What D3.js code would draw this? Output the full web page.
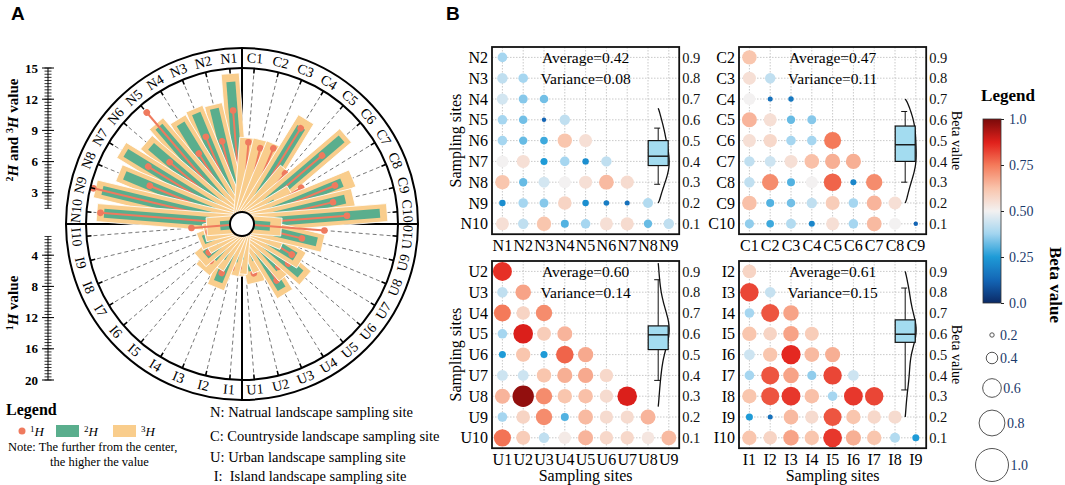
<!DOCTYPE html>
<html>
<head>
<meta charset="utf-8">
<script src="https://cdn.jsdelivr.net/npm/d3@7"></script>
<style>
  body { margin: 0; background: #fff; }
  text { font-family: "Liberation Serif", "Times New Roman", serif; }
</style>
</head>
<body>
<svg id="fig" width="1065" height="485"></svg>
<script>
// ---------- panel A data (radial) ----------
var sitesN = d3.range(1, 11).map(function(i) { return 'N' + i; });
var sitesC = d3.range(1, 11).map(function(i) { return 'C' + i; });
var sitesU = d3.range(1, 11).map(function(i) { return 'U' + i; });
var sitesI = d3.range(1, 11).map(function(i) { return 'I' + i; });

var h3N = [14.5, 11.8, 12.0, 11.8, 12.7, 12.1, 13.6, 12.8, 14.5, 14.0];
var h2N = [13.7, 11.4, 11.5, 11.3, 12.3, 11.5, 13.1, 12.2, 13.8, 13.3];
var h1N = [14.6, 10.9, 12.1, 10.6, 18.8, 12.2, 14.1, 12.8, 19.6, 18.2];

var h3C = [8.3, 8.3, 8.3, 11.8, 6.7, 13.1, 5.6, 11.5, 11.0, 14.0];
var h2C = [1.4, 1.4, 1.4, 10.9, 2.9, 12.6, 3.8, 10.4, 10.2, 13.3];
var h1C = [10.5, 10.0, 10.5, 14.4, 8.5, 13.5, 8.9, 12.9, 12.0, 13.5];

var h3U = [5.0, 5.8, 4.8, 7.9, 6.5, 8.0, 6.7, 4.3, 8.0, 3.8];
var h2U = [3.8, 4.6, 3.7, 7.3, 5.6, 7.4, 6.0, 3.1, 7.4, 2.7];
var h1U = [5.3, 6.5, 4.3, 8.5, 7.2, 7.8, 7.5, 4.7, 7.9, 10.6];

var h3I = [4.8, 5.0, 6.6, 4.8, 5.8, 5.3, 4.0, 4.4, 3.7, 3.4];
var h2I = [3.4, 3.7, 6.0, 3.8, 4.3, 4.6, 3.1, 4.0, 2.4, 2.1];
var h1I = [5.6, 5.8, 6.8, 4.4, 6.2, 5.6, 4.4, 4.6, 4.4, 6.5];

var ticks23 = [3, 6, 9, 12, 15];
var ticks1 = [4, 8, 12, 16, 20];

// ---------- panel B data (beta matrices, lower triangle) ----------
var betaN = [
  [0.38],
  [0.42, 0.38],
  [0.45, 0.35, 0.33],
  [0.38, 0.33, 0.12, 0.42],
  [0.38, 0.32, 0.28, 0.62, 0.55],
  [0.50, 0.55, 0.25, 0.38, 0.22, 0.42],
  [0.62, 0.32, 0.45, 0.50, 0.55, 0.64, 0.56],
  [0.22, 0.38, 0.35, 0.58, 0.22, 0.18, 0.15, 0.40],
  [0.55, 0.42, 0.62, 0.30, 0.38, 0.55, 0.56, 0.32, 0.42]
];
var betaC = [
  [0.62],
  [0.55, 0.42],
  [0.50, 0.15, 0.17],
  [0.65, 0.55, 0.32, 0.35],
  [0.55, 0.57, 0.38, 0.38, 0.75],
  [0.42, 0.44, 0.55, 0.63, 0.66, 0.66],
  [0.42, 0.72, 0.30, 0.50, 0.78, 0.20, 0.72],
  [0.63, 0.30, 0.33, 0.42, 0.60, 0.38, 0.65, 0.55],
  [0.36, 0.28, 0.40, 0.20, 0.55, 0.38, 0.64, 0.50, 0.12]
];
var betaU = [
  [0.85],
  [0.42, 0.68],
  [0.75, 0.58, 0.72],
  [0.38, 0.88, 0.60, 0.65],
  [0.25, 0.62, 0.25, 0.78, 0.67],
  [0.44, 0.44, 0.62, 0.66, 0.67, 0.57],
  [0.65, 0.97, 0.72, 0.62, 0.63, 0.56, 0.88],
  [0.38, 0.58, 0.72, 0.30, 0.64, 0.56, 0.56, 0.65],
  [0.76, 0.60, 0.42, 0.52, 0.65, 0.57, 0.57, 0.53, 0.64]
];
var betaI = [
  [0.58],
  [0.82, 0.43],
  [0.38, 0.80, 0.68],
  [0.62, 0.58, 0.68, 0.60],
  [0.44, 0.62, 0.86, 0.64, 0.66],
  [0.38, 0.80, 0.68, 0.36, 0.82, 0.44],
  [0.62, 0.80, 0.84, 0.63, 0.38, 0.84, 0.82],
  [0.25, 0.15, 0.64, 0.56, 0.80, 0.62, 0.57, 0.56],
  [0.62, 0.58, 0.68, 0.62, 0.84, 0.66, 0.62, 0.40, 0.25]
];
var averages = [0.42, 0.47, 0.60, 0.61];
var variances = [0.08, 0.11, 0.14, 0.15];
// whisker low, q1, median, q3, whisker high
var boxN = [0.29, 0.38, 0.425, 0.50, 0.56];
var boxC = [0.30, 0.40, 0.48, 0.57, 0.64];
var boxU = [0.376, 0.524, 0.595, 0.638, 0.86];
var boxI = [0.33, 0.559, 0.598, 0.667, 0.82];
// violin extent
var violinN = [0.20, 0.655];
var violinC = [0.20, 0.70];
var violinU = [0.25, 0.94];
var violinI = [0.20, 0.90];
var betaTicks = [0.1, 0.2, 0.3, 0.4, 0.5, 0.6, 0.7, 0.8, 0.9];
var colorTicks = [0, 0.25, 0.5, 0.75, 1];
var sizeTicks = [0.2, 0.4, 0.6, 0.8, 1.0];

var svg = d3.select('#fig');

var col3 = '#F9CD8C', col2 = '#5AAE8D', col1 = '#EF7A5E';

// ================= panel A =================
var cx = 242, cy = 224, rIn = 156, rOut = 176, rHole = 12;
var r23 = d3.scaleLinear().domain([0, 15]).range([0, rIn]);
var r1 = d3.scaleLinear().domain([0, 20]).range([0, rIn]);
var slot = d3.scaleBand().domain(d3.range(10)).range([0, 90]);

var quads = [
  {sites: sitesN, h1: h1N, h2: h2N, h3: h3N, start: 0, dir: -1},
  {sites: sitesC, h1: h1C, h2: h2C, h3: h3C, start: 0, dir: 1},
  {sites: sitesU, h1: h1U, h2: h2U, h3: h3U, start: 180, dir: -1},
  {sites: sitesI, h1: h1I, h2: h2I, h3: h3I, start: 180, dir: 1}
];
var sites = [];
quads.forEach(function(q) {
  q.sites.forEach(function(s, i) {
    sites.push({name: s, a: q.start + q.dir * (slot(i) + slot.bandwidth() / 2),
                v1: q.h1[i], v2: q.h2[i], v3: q.h3[i]});
  });
});
function px(a, r) { return cx + r * Math.sin(a * Math.PI / 180); }
function py(a, r) { return cy - r * Math.cos(a * Math.PI / 180); }

var gA = svg.append('g').attr('class', 'panelA');

// dashed spokes
gA.selectAll('line.spoke').data(sites).join('line')
  .attr('class', 'spoke')
  .attr('x1', function(d) { return px(d.a, rHole); })
  .attr('y1', function(d) { return py(d.a, rHole); })
  .attr('x2', function(d) { return px(d.a, rIn); })
  .attr('y2', function(d) { return py(d.a, rIn); })
  .attr('stroke', '#777').attr('stroke-width', 1).attr('stroke-dasharray', '4,3');

// cross
gA.append('line').attr('x1', cx).attr('x2', cx).attr('y1', cy - rOut).attr('y2', cy + rOut)
  .attr('stroke', '#000').attr('stroke-width', 2);
gA.append('line').attr('x1', cx - rOut).attr('x2', cx + rOut).attr('y1', cy).attr('y2', cy)
  .attr('stroke', '#000').attr('stroke-width', 2);

// bars + lollipops
var bars = gA.selectAll('g.site').data(sites).join('g')
  .attr('class', 'site')
  .attr('transform', function(d) { return 'translate(' + cx + ',' + cy + ') rotate(' + d.a + ')'; });
bars.append('rect')
  .attr('x', -9).attr('width', 18)
  .attr('y', function(d) { return -r23(d.v3); })
  .attr('height', function(d) { return r23(d.v3); })
  .attr('fill', col3).attr('stroke', '#fff').attr('stroke-width', 0.8);
bars.append('rect')
  .attr('x', -4.5).attr('width', 9)
  .attr('y', function(d) { return -r23(d.v2); })
  .attr('height', function(d) { return r23(d.v2); })
  .attr('fill', col2);
bars.append('line')
  .attr('x1', 0).attr('x2', 0).attr('y1', 0)
  .attr('y2', function(d) { return -r1(d.v1); })
  .attr('stroke', col1).attr('stroke-width', 2);
bars.append('circle')
  .attr('cx', 0).attr('cy', function(d) { return -r1(d.v1); })
  .attr('r', 3.3).attr('fill', col1);

// hole
gA.append('circle').attr('cx', cx).attr('cy', cy).attr('r', rHole)
  .attr('fill', '#fff').attr('stroke', '#000').attr('stroke-width', 2);

// ring
gA.append('circle').attr('cx', cx).attr('cy', cy).attr('r', rIn)
  .attr('fill', 'none').attr('stroke', '#000').attr('stroke-width', 2);
gA.append('circle').attr('cx', cx).attr('cy', cy).attr('r', rOut)
  .attr('fill', 'none').attr('stroke', '#000').attr('stroke-width', 2);
gA.selectAll('line.rtick').data(sites).join('line')
  .attr('class', 'rtick')
  .attr('x1', function(d) { return px(d.a, rIn - 5); })
  .attr('y1', function(d) { return py(d.a, rIn - 5); })
  .attr('x2', function(d) { return px(d.a, rIn); })
  .attr('y2', function(d) { return py(d.a, rIn); })
  .attr('stroke', '#000').attr('stroke-width', 1.5);
gA.selectAll('text.site').data(sites).join('text')
  .attr('class', 'site')
  .attr('transform', function(d) {
    var rot = (d.a > -90 && d.a < 90) ? d.a : d.a + 180;
    return 'translate(' + px(d.a, (rIn + rOut) / 2) + ',' + py(d.a, (rIn + rOut) / 2) + ') rotate(' + rot + ')';
  })
  .attr('text-anchor', 'middle').attr('dominant-baseline', 'central')
  .style('font-size', '14px')
  .text(function(d) { return d.name; });

// left rulers
var axX = 48;
var y23 = d3.scaleLinear().domain([0, 15]).range([cy, cy - rIn]);
var y1 = d3.scaleLinear().domain([0, 20]).range([cy, cy + rIn]);
function ruler(scale, lo, hi, step, majors) {
  var g = gA.append('g');
  g.append('line').attr('x1', axX).attr('x2', axX).attr('y1', scale(lo)).attr('y2', scale(hi))
    .attr('stroke', '#000').attr('stroke-width', 1);
  var minors = d3.range(hi, lo - 1e-6, -step);
  g.selectAll('line.mn').data(minors).join('line')
    .attr('x1', axX - 3.5).attr('x2', axX + 3.5)
    .attr('y1', function(d) { return scale(d); }).attr('y2', function(d) { return scale(d); })
    .attr('stroke', '#000').attr('stroke-width', 0.8);
  g.selectAll('line.mj').data(majors).join('line')
    .attr('x1', axX - 6).attr('x2', axX + 6)
    .attr('y1', function(d) { return scale(d); }).attr('y2', function(d) { return scale(d); })
    .attr('stroke', '#000').attr('stroke-width', 1);
  g.selectAll('text').data(majors).join('text')
    .attr('x', axX - 10).attr('y', function(d) { return scale(d); })
    .attr('text-anchor', 'end').attr('dominant-baseline', 'central')
    .style('font-size', '13px').style('font-weight', 'bold')
    .text(function(d) { return d; });
}
ruler(y23, 1.5, 15, 0.3, ticks23);
ruler(y1, 1.6, 20, 0.4, ticks1);

function isoTitle(x, y, parts) {
  var t = gA.append('text').attr('transform', 'translate(' + x + ',' + y + ') rotate(-90)')
    .attr('text-anchor', 'middle').style('font-size', '15px').style('font-weight', 'bold');
  parts.forEach(function(p) {
    var s = t.append('tspan').text(p[0]);
    if (p[1] === 'sup') s.attr('dy', -5).style('font-size', '10px');
    if (p[1] === 'it') s.attr('dy', 5).style('font-style', 'italic');
  });
}
isoTitle(18, 130, [['2', 'sup'], ['H', 'it'], [' and '], ['3', 'sup'], ['H', 'it'], [' value']]);
isoTitle(18, 303, [['1', 'sup'], ['H', 'it'], [' value']]);

// legend A
function isoLabel(x, y, n) {
  var t = gA.append('text').attr('x', x).attr('y', y).style('font-size', '13px');
  t.append('tspan').attr('dy', -4).style('font-size', '9px').text(n);
  t.append('tspan').attr('dy', 4).style('font-style', 'italic').text('H');
}
gA.append('text').attr('x', 6).attr('y', 415).style('font-size', '16px').style('font-weight', 'bold').text('Legend');
gA.append('circle').attr('cx', 22).attr('cy', 431).attr('r', 3.5).attr('fill', col1);
isoLabel(30, 436, '1');
gA.append('rect').attr('x', 56).attr('y', 425).attr('width', 23).attr('height', 12).attr('fill', col2);
isoLabel(84, 436, '2');
gA.append('rect').attr('x', 113).attr('y', 425).attr('width', 23).attr('height', 12).attr('fill', col3);
isoLabel(141, 436, '3');
gA.append('text').attr('x', 8).attr('y', 451).style('font-size', '12.5px').text('Note: The further from the center,');
gA.append('text').attr('x', 50).attr('y', 466).style('font-size', '12.5px').text('the higher the value');

var notes = ['N: Natrual landscape sampling site', 'C: Countryside landscape sampling site',
             'U: Urban landscape sampling site', ' I:  Island landscape sampling site'];
var noteY = [417, 441, 462, 481];
gA.selectAll('text.note').data(notes).join('text')
  .attr('class', 'note').attr('x', 210).attr('y', function(d, i) { return noteY[i]; })
  .style('font-size', '14.5px').style('white-space', 'pre')
  .text(function(d) { return d; });

// panel letters
svg.append('text').attr('x', 11).attr('y', 20).style('font-family', '"Liberation Sans", Arial, sans-serif')
  .style('font-size', '19px').style('font-weight', 'bold').text('A');
svg.append('text').attr('x', 446).attr('y', 20).style('font-family', '"Liberation Sans", Arial, sans-serif')
  .style('font-size', '19px').style('font-weight', 'bold').text('B');

// ================= panel B =================
var color = d3.scaleLinear()
  .domain([0, 0.12, 0.25, 0.38, 0.5, 0.62, 0.75, 0.87, 1])
  .range(['#0B2A66', '#1364B4', '#1E9BD7', '#A6D6F0', '#F3F1F1', '#F9C6AE', '#F47A5A', '#E3211C', '#7A0A0A'])
  .interpolate(d3.interpolateRgb);
var size = d3.scaleLinear().domain([0, 1]).range([1, 11]);
var cell = 20.8;

function drawMatrix(o) {
  var g = svg.append('g');
  var rows = o.labels.slice(1), cols = o.labels.slice(0, 9);
  var xs = d3.scaleBand().domain(cols).range([o.x, o.x + 9 * cell]);
  var ys = d3.scaleBand().domain(rows).range([o.y, o.y + 9 * cell]);
  var yb = d3.scaleLinear().domain([0.1, 0.9])
    .range([ys(rows[8]) + cell / 2, ys(rows[0]) + cell / 2]);
  var W = 9 * cell;

  // dotted grid
  g.selectAll('line.gx').data(cols).join('line')
    .attr('x1', function(d) { return xs(d) + cell / 2; }).attr('x2', function(d) { return xs(d) + cell / 2; })
    .attr('y1', o.y).attr('y2', o.y + W)
    .attr('stroke', '#bbb').attr('stroke-width', 0.8).attr('stroke-dasharray', '1.5,1.5');
  g.selectAll('line.gy').data(rows).join('line')
    .attr('y1', function(d) { return ys(d) + cell / 2; }).attr('y2', function(d) { return ys(d) + cell / 2; })
    .attr('x1', o.x).attr('x2', o.x + W)
    .attr('stroke', '#bbb').attr('stroke-width', 0.8).attr('stroke-dasharray', '1.5,1.5');

  // cells
  var pts = [];
  o.values.forEach(function(row, i) {
    row.forEach(function(v, j) { pts.push({r: rows[i], c: cols[j], v: v}); });
  });
  g.selectAll('circle.pt').data(pts).join('circle')
    .attr('cx', function(d) { return xs(d.c) + cell / 2; })
    .attr('cy', function(d) { return ys(d.r) + cell / 2; })
    .attr('r', function(d) { return size(d.v); })
    .attr('fill', function(d) { return color(d.v); });

  // violin (half, right side) from the cell values
  var bx = o.x + W - 21;
  var all = pts.map(function(d) { return d.v; });
  var bw = 0.08;
  var dens = d3.range(41).map(function(k) {
    var t = o.violin[0] + (o.violin[1] - o.violin[0]) * k / 40;
    var taper = Math.pow(Math.sin(Math.PI * k / 40), 0.6);
    return [t, taper * d3.mean(all, function(v) { return Math.exp(-0.5 * Math.pow((t - v) / bw, 2)); })];
  });
  var dmax = d3.max(dens, function(d) { return d[1]; });
  var vw = d3.scaleLinear().domain([0, dmax]).range([0, 11]);
  g.append('path')
    .attr('d', d3.line().curve(d3.curveBasis)
      .x(function(d) { return bx + vw(d[1]); })
      .y(function(d) { return yb(d[0]); })(dens))
    .attr('fill', 'none').attr('stroke', '#111').attr('stroke-width', 1.3);

  // box
  var b = o.box;
  g.append('line').attr('x1', bx).attr('x2', bx).attr('y1', yb(b[0])).attr('y2', yb(b[4]))
    .attr('stroke', '#111').attr('stroke-width', 1);
  [b[0], b[4]].forEach(function(v) {
    g.append('line').attr('x1', bx - 4).attr('x2', bx + 2).attr('y1', yb(v)).attr('y2', yb(v))
      .attr('stroke', '#111').attr('stroke-width', 1);
  });
  g.append('rect').attr('x', bx - 10).attr('width', 20)
    .attr('y', yb(b[3])).attr('height', yb(b[1]) - yb(b[3]))
    .attr('fill', '#A3DCF0').attr('stroke', '#111').attr('stroke-width', 1.2);
  g.append('line').attr('x1', bx - 10).attr('x2', bx + 10).attr('y1', yb(b[2])).attr('y2', yb(b[2]))
    .attr('stroke', '#111').attr('stroke-width', 1.4);

  // frame
  g.append('rect').attr('x', o.x).attr('y', o.y).attr('width', W).attr('height', W)
    .attr('fill', 'none').attr('stroke', '#111').attr('stroke-width', 1.8);

  // labels
  g.selectAll('text.rl').data(rows).join('text')
    .attr('x', o.x - 4).attr('y', function(d) { return ys(d) + cell / 2; })
    .attr('text-anchor', 'end').attr('dominant-baseline', 'central')
    .style('font-size', '16px').text(function(d) { return d; });
  g.selectAll('text.cl').data(cols).join('text')
    .attr('x', function(d) { return xs(d) + cell / 2; }).attr('y', o.y + W + 11)
    .attr('text-anchor', 'middle').attr('dominant-baseline', 'central')
    .style('font-size', '16px').text(function(d) { return d; });
  var ax = g.append('g').attr('transform', 'translate(' + (o.x + W + 1) + ',0)')
    .call(d3.axisRight(yb).tickValues(betaTicks).tickSize(0).tickPadding(2).tickFormat(d3.format('.1f')));
  ax.select('.domain').remove();
  ax.selectAll('text').style('font-family', '"Liberation Serif","Times New Roman",serif')
    .style('font-size', '14.5px').attr('fill', '#111');

  g.append('text').attr('x', o.x + W / 2).attr('y', ys(rows[0]) + cell / 2)
    .attr('text-anchor', 'middle').attr('dominant-baseline', 'central').style('font-size', '15.5px')
    .text('Average=' + d3.format('.2f')(o.avg));
  g.append('text').attr('x', o.x + W / 2).attr('y', ys(rows[1]) + cell / 2)
    .attr('text-anchor', 'middle').attr('dominant-baseline', 'central').style('font-size', '15.5px')
    .text('Variance=' + d3.format('.2f')(o.vr));

  if (o.leftTitle) {
    g.append('text').attr('transform', 'translate(' + (o.x - 37) + ',' + (o.y + W / 2) + ') rotate(-90)')
      .attr('text-anchor', 'middle').attr('dominant-baseline', 'central').style('font-size', '16px').text('Sampling sites');
  }
  if (o.rightTitle) {
    g.append('text').attr('transform', 'translate(' + (o.x + W + 30) + ',' + (o.y + W / 2) + ') rotate(90)')
      .attr('text-anchor', 'middle').attr('dominant-baseline', 'central').style('font-size', '14px').text('Beta value');
  }
  if (o.bottomTitle) {
    g.append('text').attr('x', o.x + W / 2).attr('y', o.y + W + 27)
      .attr('text-anchor', 'middle').attr('dominant-baseline', 'central').style('font-size', '16px').text('Sampling sites');
  }
}

drawMatrix({x: 492, y: 47, labels: sitesN, values: betaN, avg: averages[0], vr: variances[0],
            box: boxN, violin: violinN, leftTitle: true});
drawMatrix({x: 739, y: 47, labels: sitesC, values: betaC, avg: averages[1], vr: variances[1],
            box: boxC, violin: violinC, rightTitle: true});
drawMatrix({x: 492, y: 261, labels: sitesU, values: betaU, avg: averages[2], vr: variances[2],
            box: boxU, violin: violinU, leftTitle: true, bottomTitle: true});
drawMatrix({x: 739, y: 261, labels: sitesI, values: betaI, avg: averages[3], vr: variances[3],
            box: boxI, violin: violinI, rightTitle: true, bottomTitle: true});

// ---------- colour / size legend ----------
var gL = svg.append('g');
var legBlue = '#1B3A6B';
gL.append('text').attr('x', 1008).attr('y', 101).attr('text-anchor', 'middle')
  .style('font-size', '17px').style('font-weight', 'bold').text('Legend');
var cbX = 983, cbW = 18;
var cbY = d3.scaleLinear().domain([0, 1]).range([303, 119]);
var grad = svg.append('defs').append('linearGradient').attr('id', 'cbar')
  .attr('x1', 0).attr('x2', 0).attr('y1', 1).attr('y2', 0);
grad.selectAll('stop').data(d3.range(0, 1.0001, 0.025)).join('stop')
  .attr('offset', function(d) { return d; })
  .attr('stop-color', function(d) { return color(d); });
gL.append('rect').attr('x', cbX).attr('y', cbY(1)).attr('width', cbW).attr('height', cbY(0) - cbY(1))
  .attr('fill', 'url(#cbar)').attr('stroke', '#333').attr('stroke-width', 0.8);
var cax = gL.append('g').attr('transform', 'translate(' + (cbX + cbW) + ',0)')
  .call(d3.axisRight(cbY).tickValues(colorTicks).tickSize(3).tickPadding(5)
    .tickFormat(function(d) { return d === 0 ? '0.0' : d === 1 ? '1.0' : d3.format('.2f')(d); }));
cax.select('.domain').remove();
cax.selectAll('line').attr('stroke', '#222');
cax.selectAll('text').style('font-family', '"Liberation Serif","Times New Roman",serif')
  .style('font-size', '14px').attr('fill', legBlue);

var sizeLeg = d3.scaleLinear().domain([0.2, 1]).range([2.2, 16.5]);
var sizeY = [335, 358, 388, 423, 465];
gL.selectAll('circle.sz').data(sizeTicks).join('circle')
  .attr('cx', 992).attr('cy', function(d, i) { return sizeY[i]; })
  .attr('r', function(d) { return sizeLeg(d); })
  .attr('fill', 'none').attr('stroke', '#555').attr('stroke-width', 1);
gL.selectAll('text.sz').data(sizeTicks).join('text')
  .attr('x', function(d) { return 992 + Math.max(8, sizeLeg(d) + 2); })
  .attr('y', function(d, i) { return sizeY[i]; })
  .attr('dominant-baseline', 'central').style('font-size', '14px').attr('fill', legBlue)
  .text(function(d) { return d3.format('.1f')(d); });
gL.append('text').attr('transform', 'translate(1055,285) rotate(90)')
  .attr('text-anchor', 'middle').attr('dominant-baseline', 'central')
  .style('font-size', '17px').style('font-weight', 'bold').text('Beta value');
</script>
</body>
</html>
